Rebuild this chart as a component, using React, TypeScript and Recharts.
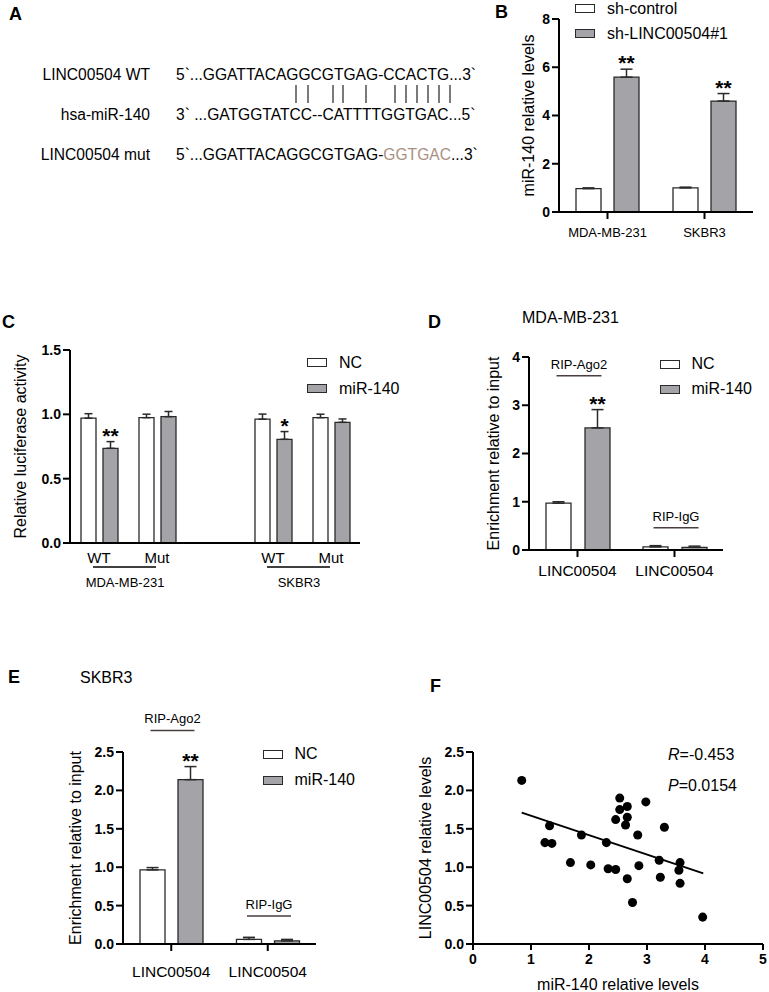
import React from "react";
import { Bar, BarChart, ErrorBar, LabelList, Legend, Scatter, ScatterChart, XAxis, YAxis } from "recharts";

const FONT = '"Liberation Sans", Arial, Helvetica, sans-serif';
const INK = "#000";
const EDGE = "#2a2a2a";
const NC_FILL = "#ffffff";
const MIR_FILL = "#a4a4a8";
const MUT_COLOR = "#a89080";
const BRACKET = "#4a3e3e";

// A - sequence alignment
const seqNames = ["LINC00504 WT", "hsa-miR-140", "LINC00504 mut"];
const seqWT = "5`...GGATTACAGGCGTGAG-CCACTG...3`";
const seqMiR = "3` ...GATGGTATCC--CATTTTGGTGAC...5`";
const seqMutHead = "5`...GGATTACAGGCGTGAG-";
const seqMutSite = "GGTGAC";
const seqMutTail = "...3`";
const pairX = [296, 308, 333, 343, 366, 395, 406, 417, 428, 439, 450];

// B - miR-140 after knockdown
const bCells = ["MDA-MB-231", "SKBR3"];
const bControl = [0.97, 1.0];
const bControlErr = [0.03, 0.03];
const bSh = [5.59, 4.6];
const bShErr = [0.33, 0.31];
const bSig = ["**", "**"];
const bTicks = [0, 2, 4, 6, 8];

// C - luciferase
const cTicks = ["WT", "Mut", "", "WT", "Mut"];
const cCells = ["MDA-MB-231", "", "", "SKBR3", ""];
const cNC = [0.97, 0.974, null, 0.962, 0.974];
const cNCErr = [0.035, 0.027, null, 0.04, 0.027];
const cMiR = [0.736, 0.982, null, 0.806, 0.938];
const cMiRErr = [0.052, 0.04, null, 0.06, 0.026];
const cSig = ["**", "", "", "*", ""];
const cYTicks = [0, 0.5, 1, 1.5];

// D - RIP MDA-MB-231
const dTargets = ["LINC00504", "LINC00504"];
const dRip = ["RIP-Ago2", "RIP-IgG"];
const dRipLevel = [3.61, 0.46];
const dNC = [0.97, 0.065];
const dNCErr = [0.03, 0.025];
const dMiR = [2.53, 0.055];
const dMiRErr = [0.38, 0.025];
const dSig = ["**", ""];
const dYTicks = [0, 1, 2, 3, 4];

// E - RIP SKBR3
const eTargets = ["LINC00504", "LINC00504"];
const eRip = ["RIP-Ago2", "RIP-IgG"];
const eRipLevel = [2.78, 0.365];
const eNC = [0.965, 0.06];
const eNCErr = [0.03, 0.027];
const eMiR = [2.14, 0.04];
const eMiRErr = [0.17, 0.02];
const eSig = ["**", ""];
const eYTicks = [0, 0.5, 1, 1.5, 2, 2.5];

// F - correlation
const fX = [0.84, 1.24, 1.32, 1.36, 1.68, 1.87, 2.03, 2.3, 2.33, 2.46, 2.46, 2.53, 2.53, 2.66, 2.66, 2.63, 2.66, 2.75, 2.84, 2.86, 2.98, 3.21, 3.23, 3.3, 3.55, 3.57, 3.57, 3.96];
const fY = [2.13, 1.32, 1.54, 1.31, 1.06, 1.42, 1.03, 1.32, 0.98, 1.62, 0.97, 1.9, 1.75, 1.79, 1.65, 1.55, 0.85, 0.54, 1.42, 1.02, 1.85, 1.09, 0.87, 1.52, 0.96, 1.06, 0.79, 0.35];
const fitX = [0.84, 3.97];
const fitY = [1.71, 0.92];
const fXTicks = [0, 1, 2, 3, 4, 5];
const fYTicks = [0, 0.5, 1, 1.5, 2, 2.5];
const fR = "-0.453";
const fP = "0.0154";

type Row = Record<string, any>;

const bData: Row[] = bCells.map((cell, i) => ({
  cell, nc: bControl[i], ncErr: [0, bControlErr[i]], mir: bSh[i], mirErr: [0, bShErr[i]], sig: bSig[i],
}));
const cData: Row[] = cTicks.map((t, i) => ({
  slot: `s${i}`, nc: cNC[i], ncErr: cNC[i] == null ? null : [0, cNCErr[i]],
  mir: cMiR[i], mirErr: cMiR[i] == null ? null : [0, cMiRErr[i]], sig: cSig[i],
}));
const ripRows = (targets: string[], rip: string[], level: number[], nc: number[], ncErr: number[], mir: number[], mirErr: number[], sig: string[]) =>
  targets.map((t, i) => ({
    slot: `${t}-${i}`, target: t, rip: rip[i], level: level[i],
    nc: nc[i], ncErr: [0, ncErr[i]], mir: mir[i], mirErr: [0, mirErr[i]], sig: sig[i],
  }));
const dData = ripRows(dTargets, dRip, dRipLevel, dNC, dNCErr, dMiR, dMiRErr, dSig);
const eData = ripRows(eTargets, eRip, eRipLevel, eNC, eNCErr, eMiR, eMiRErr, eSig);
const fPoints = fX.map((x, i) => ({ x, y: fY[i] }));
const fFit = fitX.map((x, i) => ({ x, y: fitY[i] }));

const axisLine = { stroke: INK, strokeWidth: 2 };
const tickLine = { stroke: INK, strokeWidth: 2 };
const yTick = { fill: INK, fontSize: 14, fontWeight: 700 };
const oneDec = (v: number) => v.toFixed(1);
const wholeRow = (d: Row) => d;

function boxOf(props: any) {
  const vb = props.viewBox && props.viewBox.width !== undefined ? props.viewBox : props;
  const y = Number(vb.y), h = Number(vb.height);
  return { x: Number(vb.x), w: Number(vb.width), top: Math.min(y, y + h), bottom: Math.max(y, y + h), h: Math.abs(h) };
}

// label value is the whole row, so no index lookup is needed
const starLabel = (props: any) => {
  const row: Row = props.value;
  if (!row || !row.sig || !row.mir) return null;
  const { x, w, top, h } = boxOf(props);
  const px = h / row.mir;
  const errTop = top - row.mirErr[1] * px;
  return (
    <text x={x + w / 2} y={errTop + 1} textAnchor="middle" fontSize={21} fontWeight={700} fill={INK}>
      {row.sig}
    </text>
  );
};

const bracketLabel = (step: number) => (props: any) => {
  const row: Row = props.value;
  if (!row || !row.rip) return null;
  const { x, w, bottom, h } = boxOf(props);
  const px = h / row.nc;
  const ly = bottom - row.level * px;
  const x1 = x + w / 2 - 2;
  const x2 = x + w / 2 + step + 4;
  return (
    <g>
      <line x1={x1} x2={x2} y1={ly} y2={ly} stroke={BRACKET} strokeWidth={1.5} />
      <text x={(x1 + x2) / 2} y={ly - 7} textAnchor="middle" fontSize={13} fill={INK}>{row.rip}</text>
    </g>
  );
};

const seriesOrder = ["nc", "mir"];
const legendBox = (rowH: number, gap: number) => (props: any) => {
  const items = [...(props.payload ?? [])].sort((a: any, b: any) => seriesOrder.indexOf(a.dataKey) - seriesOrder.indexOf(b.dataKey));
  return (
    <div style={{ fontFamily: FONT }}>
      {items.map((p: any) => (
        <div key={p.value} style={{ display: "flex", alignItems: "center", height: rowH }}>
          <div style={{ width: 20, height: 9, boxSizing: "border-box", border: `1.5px solid ${EDGE}`, background: p.color, marginRight: gap }} />
          <span style={{ fontSize: 16, color: INK, lineHeight: 1, whiteSpace: "nowrap" }}>{p.value}</span>
        </div>
      ))}
    </div>
  );
};

const CTick = (props: any) => {
  const { x, y, index } = props;
  const cell = cCells[index];
  return (
    <g>
      <text x={x} y={y + 19.5} textAnchor="middle" fontSize={15} fill={INK}>{cTicks[index]}</text>
      {cell ? (
        <g>
          <line x1={x - 6} x2={x + 57} y1={y + 24} y2={y + 24} stroke={INK} strokeWidth={1.5} />
          <text x={x + 26} y={y + 43.5} textAnchor="middle" fontSize={13} fill={INK}>{cell}</text>
        </g>
      ) : null}
    </g>
  );
};

function Place({ left, top, children }: { left: number; top: number; children: React.ReactNode }) {
  return <div style={{ position: "absolute", left, top, zIndex: 1 }}>{children}</div>;
}

function PanelB() {
  return (
    <BarChart width={266} height={250} data={bData} margin={{ top: 19, right: 10, bottom: 8, left: 0 }} barSize={25} barGap={13}>
      <XAxis dataKey="cell" interval={0} height={30} axisLine={axisLine} tickLine={tickLine} tickSize={7} tickMargin={9} tick={{ fill: INK, fontSize: 13 }} />
      <YAxis width={62} domain={[0, 8]} ticks={bTicks} interval={0} axisLine={axisLine} tickLine={tickLine} tickSize={7} tick={yTick}
        label={{ value: "miR-140 relative levels", angle: -90, position: "center", fontSize: 16, fill: INK }} />
      <Legend content={legendBox(25, 12)} layout="horizontal" verticalAlign="middle" align="center" wrapperStyle={{ left: 78, top: -4, width: "auto" }} />
      <Bar dataKey="nc" name="sh-control" fill={NC_FILL} stroke={EDGE} strokeWidth={1.3} isAnimationActive={false}>
        <ErrorBar dataKey="ncErr" direction="y" width={6} stroke={EDGE} strokeWidth={1.5} />
      </Bar>
      <Bar dataKey="mir" name="sh-LINC00504#1" fill={MIR_FILL} stroke={EDGE} strokeWidth={1.3} isAnimationActive={false}>
        <ErrorBar dataKey="mirErr" direction="y" width={6} stroke={EDGE} strokeWidth={1.5} />
        <LabelList dataKey={wholeRow} content={starLabel} />
      </Bar>
    </BarChart>
  );
}

function PanelC() {
  return (
    <BarChart width={410} height={300} data={cData} margin={{ top: 50, right: 20, bottom: 7, left: 0 }} barSize={15} barGap={7}>
      <XAxis dataKey="slot" interval={0} height={50} axisLine={axisLine} tickLine={false} tickSize={0} tickMargin={0} tick={<CTick />} />
      <YAxis width={100} domain={[0, 1.5]} ticks={cYTicks} interval={0} tickFormatter={oneDec} axisLine={axisLine} tickLine={tickLine} tickSize={7} tick={yTick}
        label={{ value: "Relative luciferase activity", angle: -90, position: "center", fontSize: 16, fill: INK }} />
      <Legend content={legendBox(26, 12)} layout="horizontal" verticalAlign="middle" align="center" wrapperStyle={{ left: 337, top: 49.5, width: "auto" }} />
      <Bar dataKey="nc" name="NC" fill={NC_FILL} stroke={EDGE} strokeWidth={1.3} isAnimationActive={false}>
        <ErrorBar dataKey="ncErr" direction="y" width={4} stroke={EDGE} strokeWidth={1.5} />
      </Bar>
      <Bar dataKey="mir" name="miR-140" fill={MIR_FILL} stroke={EDGE} strokeWidth={1.3} isAnimationActive={false}>
        <ErrorBar dataKey="mirErr" direction="y" width={4} stroke={EDGE} strokeWidth={1.5} />
        <LabelList dataKey={wholeRow} content={starLabel} />
      </Bar>
    </BarChart>
  );
}

function RipPanel({ data, width, height, margin, ticks, fmt, gap, tickMargin, legendPos }: any) {
  return (
    <BarChart width={width} height={height} data={data} margin={margin} barSize={25} barGap={gap}>
      <XAxis dataKey="target" allowDuplicatedCategory interval={0} height={margin.bottomAxis} axisLine={axisLine} tickLine={tickLine} tickSize={7} tickMargin={tickMargin} tick={{ fill: INK, fontSize: 15.5 }} />
      <YAxis width={margin.yWidth} domain={[0, ticks[ticks.length - 1]]} ticks={ticks} interval={0} tickFormatter={fmt} axisLine={axisLine} tickLine={tickLine} tickSize={7} tick={yTick}
        label={{ value: "Enrichment relative to input", angle: -90, position: "center", fontSize: 16, fill: INK }} />
      <Legend content={legendBox(legendPos.rowH, 11.5)} layout="horizontal" verticalAlign="middle" align="center" wrapperStyle={{ left: legendPos.left, top: legendPos.top, width: "auto" }} />
      <Bar dataKey="nc" name="NC" fill={NC_FILL} stroke={EDGE} strokeWidth={1.3} isAnimationActive={false}>
        <ErrorBar dataKey="ncErr" direction="y" width={6} stroke={EDGE} strokeWidth={1.5} />
        <LabelList dataKey={wholeRow} content={bracketLabel(25 + gap)} />
      </Bar>
      <Bar dataKey="mir" name="miR-140" fill={MIR_FILL} stroke={EDGE} strokeWidth={1.3} isAnimationActive={false}>
        <ErrorBar dataKey="mirErr" direction="y" width={6} stroke={EDGE} strokeWidth={1.5} />
        <LabelList dataKey={wholeRow} content={starLabel} />
      </Bar>
    </BarChart>
  );
}

function PanelF() {
  return (
    <ScatterChart width={392} height={292} margin={{ top: 52, right: 6, bottom: 2, left: 0 }}>
      <XAxis type="number" dataKey="x" domain={[0, 5]} ticks={fXTicks} interval={0} height={46} axisLine={axisLine} tickLine={tickLine} tickSize={6} tickMargin={4} tick={yTick}
        label={{ value: "miR-140 relative levels", position: "insideBottom", offset: 0, fontSize: 16, fill: INK }} />
      <YAxis type="number" dataKey="y" width={96} domain={[0, 2.5]} ticks={fYTicks} interval={0} tickFormatter={oneDec} axisLine={axisLine} tickLine={tickLine} tickSize={7} tick={yTick}
        label={{ value: "LINC00504 relative levels", angle: -90, position: "center", fontSize: 16, fill: INK }} />
      <Scatter data={fFit} line={{ stroke: INK, strokeWidth: 2 }} shape={() => <g />} legendType="none" isAnimationActive={false} />
      <Scatter data={fPoints} fill={INK} isAnimationActive={false} />
    </ScatterChart>
  );
}

function Annotations() {
  const rowY = [80, 120, 160];
  const fs = 15.6;
  return (
    <svg width={769} height={992} style={{ position: "absolute", left: 0, top: 0, zIndex: 0 }} fontFamily={FONT}>
      {[["A", 9, 20], ["B", 495, 18], ["C", 2, 328], ["D", 428, 328], ["E", 8, 683], ["F", 430, 692]].map(([t, x, y]) => (
        <text key={t as string} x={x as number} y={y as number} fontSize={18} fontWeight={700} fill={INK}>{t}</text>
      ))}
      {seqNames.map((n, i) => (
        <text key={n} x={150} y={rowY[i]} textAnchor="end" fontSize={fs} fill={INK}>{n}</text>
      ))}
      <text x={176} y={rowY[0]} fontSize={fs} fill={INK}>{seqWT}</text>
      <text x={176} y={rowY[1]} fontSize={fs} fill={INK}>{seqMiR}</text>
      <text x={176} y={rowY[2]} fontSize={fs} fill={INK}>
        {seqMutHead}<tspan fill={MUT_COLOR}>{seqMutSite}</tspan>{seqMutTail}
      </text>
      {pairX.map((x) => (
        <line key={x} x1={x} x2={x} y1={85} y2={103} stroke="#333" strokeWidth={1.3} />
      ))}
      <text x={522} y={323} fontSize={16} fill={INK}>MDA-MB-231</text>
      <text x={80} y={683} fontSize={16} fill={INK}>SKBR3</text>
      <text x={668} y={760} fontSize={16} fill={INK}><tspan fontStyle="italic">R</tspan>={fR}</text>
      <text x={668} y={791} fontSize={16} fill={INK}><tspan fontStyle="italic">P</tspan>={fP}</text>
    </svg>
  );
}

export default function App() {
  return (
    <div style={{ position: "absolute", left: 0, top: 0, width: 769, height: 992, overflow: "hidden", background: "#fff", fontFamily: FONT }}>
      <Annotations />
      <Place left={497} top={0}><PanelB /></Place>
      <Place left={-30} top={300}><PanelC /></Place>
      <Place left={457} top={300}>
        <RipPanel data={dData} width={286} height={300} margin={{ top: 57, right: 20, bottom: 10, left: 0, bottomAxis: 40, yWidth: 72 }}
          ticks={dYTicks} fmt={(v: number) => String(v)} gap={14} tickMargin={7.5} legendPos={{ left: 203, top: 51.5, rowH: 25 }} />
      </Place>
      <Place left={27} top={660}>
        <RipPanel data={eData} width={309} height={332} margin={{ top: 92, right: 20, bottom: 6, left: 0, bottomAxis: 42, yWidth: 96 }}
          ticks={eYTicks} fmt={oneDec} gap={13} tickMargin={15} legendPos={{ left: 236, top: 81, rowH: 26 }} />
      </Place>
      <Place left={377} top={700}><PanelF /></Place>
    </div>
  );
}
